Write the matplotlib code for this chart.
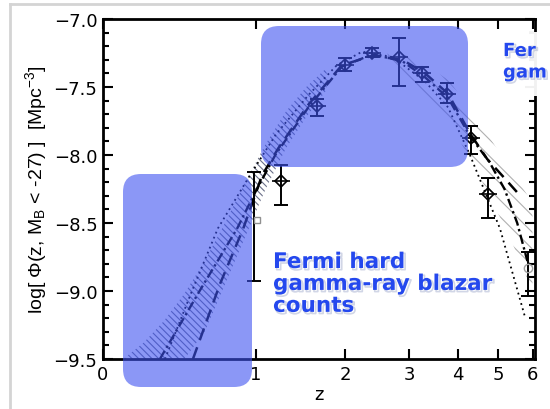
import numpy as np
import matplotlib
matplotlib.use("Agg")
import matplotlib.pyplot as plt
from matplotlib.patches import FancyBboxPatch, Rectangle
from matplotlib.lines import Line2D
from matplotlib.transforms import IdentityTransform
from matplotlib.ticker import MultipleLocator, FixedLocator
import matplotlib.patheffects as pe

plt.rcParams['mathtext.fontset'] = 'custom'
plt.rcParams['mathtext.rm'] = 'Liberation Sans'
plt.rcParams['mathtext.it'] = 'Liberation Sans:italic'
plt.rcParams['hatch.linewidth'] = 0.8

# ---------------- data (x axis is log10(1+z)) ----------------
tick_z = [0, 1, 2, 3, 4, 5, 6]
tick_labels = ['0', '1', '2', '3', '4', '5', '6']

# measured space densities
pt_z = [1.24, 1.64, 2.0, 2.38, 2.83, 3.25, 3.75, 4.3, 4.73]
pt_y = [-8.19, -7.64, -7.34, -7.25, -7.28, -7.40, -7.55, -7.875, -8.29]
pt_lo = [-8.37, -7.71, -7.38, -7.28, -7.49, -7.46, -7.62, -7.99, -8.46]
pt_hi = [-8.07, -7.59, -7.29, -7.21, -7.14, -7.35, -7.47, -7.79, -8.17]

# grey end points
gpt_z = [0.98, 5.87]
gpt_y = [-8.48, -8.83]
gpt_lo = [-8.93, -9.04]
gpt_hi = [-8.125, -8.71]

# model curves (x in log10(1+z))
main_x = [0.112, 0.19, 0.264, 0.30, 0.339, 0.404, 0.47, 0.53, 0.589, 0.634, 0.679, 0.722, 0.76, 0.79, 0.815, 0.835]
main_y = [-9.5, -9.0, -8.54, -8.27, -8.0, -7.65, -7.35, -7.26, -7.31, -7.43, -7.58, -7.86, -8.05, -8.25, -8.5, -8.78]

dash_x = [0.177, 0.23, 0.276, 0.313, 0.345, 0.404, 0.47, 0.53, 0.589, 0.634, 0.679, 0.722, 0.756, 0.79, 0.821]
dash_y = [-9.5, -8.95, -8.54, -8.15, -7.95, -7.63, -7.34, -7.27, -7.30, -7.40, -7.55, -7.84, -8.03, -8.17, -8.30]

dot_x = [0.122, 0.175, 0.226, 0.289, 0.34, 0.404, 0.46, 0.51, 0.57, 0.634, 0.679, 0.722, 0.781, 0.831]
dot_y = [-9.5, -9.0, -8.54, -8.15, -7.85, -7.56, -7.34, -7.24, -7.28, -7.46, -7.65, -8.0, -8.54, -9.2]

band1_x = [0.04, 0.08, 0.12, 0.16, 0.20, 0.24, 0.28, 0.32, 0.36, 0.40, 0.44]
band1_hi = [-9.5, -9.38, -9.22, -9.02, -8.78, -8.50, -8.20, -7.92, -7.68, -7.50, -7.36]
band1_lo = [-9.5, -9.5, -9.5, -9.5, -9.3, -8.95, -8.6, -8.25, -7.95, -7.72, -7.52]

band2_x = [0.56, 0.62, 0.68, 0.74, 0.80, 0.845]
band2_hi = [-7.22, -7.30, -7.45, -7.75, -8.10, -8.35]
band2_lo = [-7.35, -7.52, -7.75, -8.15, -8.60, -9.0]

# ---------------- figure ----------------
W, H = 550, 410
fig = plt.figure(figsize=(W / 100, H / 100), dpi=100)
ax = fig.add_axes([103 / W, 1 - 360 / H, (535 - 103) / W, (360 - 20) / H])

lz = lambda z: np.log10(1 + np.asarray(z, dtype=float))

ax.fill_between(band1_x, band1_lo, band1_hi, facecolor='none', edgecolor='#6a6f88',
                linewidth=0, hatch='\\\\\\\\\\', zorder=1)
ax.fill_between(band2_x, band2_lo, band2_hi, facecolor='none', edgecolor='#b0b0b0',
                linewidth=0, hatch='\\\\', zorder=1)

ax.plot(dot_x, dot_y, color='k', lw=1.3, ls=(0, (1, 2)), zorder=2)
ax.plot(dash_x, dash_y, color='k', lw=1.8, ls=(0, (5, 3)), zorder=2)
ax.plot(main_x, main_y, color='k', lw=1.7, ls=(0, (4, 1.5, 1, 1.5)), zorder=2)

y = np.array(pt_y)
ax.errorbar(lz(pt_z), y, yerr=[y - np.array(pt_lo), np.array(pt_hi) - y], fmt='none',
            ecolor='k', elinewidth=1.4, capsize=5, capthick=1.4, zorder=3)
ax.plot(lz(pt_z), y, ls='none', marker='D', ms=6, mfc='none', mec='k', mew=1.2, zorder=4)
ax.plot(lz(pt_z), y, ls='none', marker='_', ms=13, mec='k', mew=1.2, zorder=4)

gy = np.array(gpt_y)
ax.errorbar(lz(gpt_z), gy, yerr=[gy - np.array(gpt_lo), np.array(gpt_hi) - gy], fmt='none',
            ecolor='k', elinewidth=1.4, capsize=5, capthick=1.4, zorder=3)
ax.plot(lz(gpt_z[0]) + 0.006, gy[0], ls='none', marker='s', ms=5, mfc='none', mec='#909090', mew=1.0, zorder=4)
ax.plot(lz(gpt_z[1]), gy[1], ls='none', marker='o', ms=6, mfc='none', mec='#a0a0a0', mew=1.0, zorder=4)

ax.set_xlim(0, 0.85)
ax.set_ylim(-9.5, -7.0)
ax.xaxis.set_major_locator(FixedLocator(lz(tick_z)))
ax.set_xticklabels(tick_labels)
ax.yaxis.set_major_locator(MultipleLocator(0.5))
ax.yaxis.set_minor_locator(MultipleLocator(0.1))
ax.yaxis.set_major_formatter(plt.FuncFormatter(lambda v, p: '\u2212%.1f' % abs(v)))
ax.tick_params(which='both', direction='in', top=True, right=True, width=1.5,
               labelsize=13, colors='k')
ax.tick_params(which='major', length=7, pad=4)
ax.tick_params(which='minor', length=4)
for s in ax.spines.values():
    s.set_linewidth(2)

ax.set_xlabel('z', fontsize=13, labelpad=2)
ax.set_ylabel(r'log[ Φ(z, M$_\mathrm{B}$ < -27) ]  [Mpc$^\mathrm{-3}$]',
              fontsize=14, family='Liberation Sans', labelpad=3)

# slide border
fig.add_artist(Line2D([10, 10], [0, H - 5], transform=IdentityTransform(), color='#d4d4d4', lw=2))
fig.add_artist(Line2D([10, W], [H - 5, H - 5], transform=IdentityTransform(), color='#d4d4d4', lw=2))

# highlight boxes
box_kw = dict(boxstyle='round,pad=0,rounding_size=18', facecolor='#3e52f0', edgecolor='none',
              alpha=0.6, transform=IdentityTransform(), zorder=5)
fig.add_artist(FancyBboxPatch((123, H - 388), 252 - 123, 388 - 175, **box_kw))
fig.add_artist(FancyBboxPatch((261, H - 168), 468 - 261, 168 - 27, **box_kw))

# white patch behind right-side text
fig.add_artist(Rectangle((497, H - 97), W - 497, 97 - 33, transform=IdentityTransform(),
                         facecolor='white', edgecolor='none', alpha=0.95, zorder=6))

shadow = [pe.SimpleLineShadow(offset=(1.2, -1.2), shadow_color='#9aa4c8', alpha=0.45, linewidth=1.2),
          pe.Normal()]
fig.text(273 / W, 1 - 253 / H, 'Fermi hard\ngamma-ray blazar\ncounts', ha='left', va='top',
         fontsize=15.5, fontweight='bold', color='#2448ee', family='DejaVu Sans',
         linespacing=1.12, zorder=7, path_effects=shadow)
fig.text(503 / W, 1 - 43 / H, 'Fer\ngam', ha='left', va='top',
         fontsize=13, fontweight='bold', color='#2448ee', family='DejaVu Sans',
         linespacing=1.25, zorder=7, path_effects=shadow)

fig.savefig('out.png', dpi=100)
